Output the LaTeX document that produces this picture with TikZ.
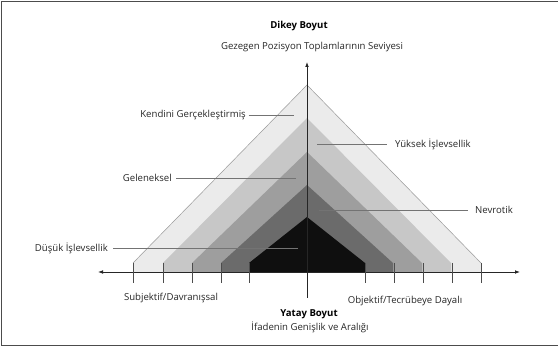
\documentclass[tikz,border=0pt]{standalone}
\usepackage{fontspec}
\setmainfont{Open Sans}
\usetikzlibrary{arrows.meta}

\tikzset{
  lbl/.style={font=\fontsize{9.6}{11}\selectfont, text=black!85, inner sep=0pt},
  ttl/.style={font=\fontsize{9.6}{11}\selectfont\bfseries, inner sep=0pt},
  leader/.style={draw=black!55, line width=0.6pt},
  axis/.style={draw=black!85, line width=0.9pt},
  tick/.style={draw=black!70, line width=0.8pt}
}

\begin{document}
\begin{tikzpicture}[x=1pt,y=-1pt]
\useasboundingbox (0,0) rectangle (558,347);
\draw [black!70, line width=1.2pt] (558,1.5) -- (1.5,1.5) -- (1.5,345.5) -- (558,345.5);

% nested bands, outer to inner
\foreach \hw/\top/\col in {174/85/black!8, 144/118/black!22, 115/152/black!38,
                           86/185/black!58, 58/217/black!94}
  \fill [\col] (307-\hw,272) -- (307-\hw,263) -- (307,\top) -- (307+\hw,263)
    -- (307+\hw,272) -- cycle;
\draw [black!40, line width=0.5pt] (133,263) -- (307,85) -- (481,263);

% axes
\coordinate (xl) at (98,272);
\coordinate (xr) at (520,272);
\coordinate (yb) at (307,298);
\coordinate (yt) at (307,62);
\draw [axis, {Latex[length=5pt]}-{Latex[length=5pt]}] (xl) -- (xr);
\draw [axis, -{Latex[length=5pt]}] (yb) -- (yt);
\foreach \x in {133,163,192,221,249,365,394,423,452,481}
  \draw [tick] (\x,263) -- (\x,283);

% titles
\node [ttl] (dikey) at (299,26) {Dikey Boyut};
\node [lbl] (gezegen) at (312,47) {Gezegen Pozisyon Toplamlarının Seviyesi};
\node [ttl] (yatay) at (309,314) {Yatay Boyut};
\node [lbl] (ifade) at (310,327) {İfadenin Genişlik ve Aralığı};
\node [lbl] (subj) at (171,298) {Subjektif/Davranışsal};
\node [lbl] (obj) at (405,301) {Objektif/Tecrübeye Dayalı};

% level labels
\node [lbl, anchor=east] (kendini) at (246,115) {Kendini Gerçekleştirmiş};
\node [lbl, anchor=east] (gelen) at (172,178) {Geleneksel};
\node [lbl, anchor=east] (dusuk) at (108,248) {Düşük İşlevsellik};
\node [lbl, anchor=west] (yuksek) at (395,144) {Yüksek İşlevsellik};
\node [lbl, anchor=west] (nevrotik) at (475,210) {Nevrotik};

\coordinate (kendini-end) at (294,115);
\coordinate (gelen-end) at (296,178);
\coordinate (dusuk-end) at (298,248);
\coordinate (yuksek-end) at (317,144);
\coordinate (nevrotik-end) at (319,210);

\draw [leader, shorten <=2.5pt] (kendini) -- (kendini-end);
\draw [leader, shorten <=4pt] (gelen) -- (gelen-end);
\draw [leader, shorten <=5pt] (dusuk) -- (dusuk-end);
\draw [leader, shorten >=8pt] (yuksek-end) -- (yuksek);
\draw [leader, shorten >=7pt] (nevrotik-end) -- (nevrotik);
\end{tikzpicture}
\end{document}
